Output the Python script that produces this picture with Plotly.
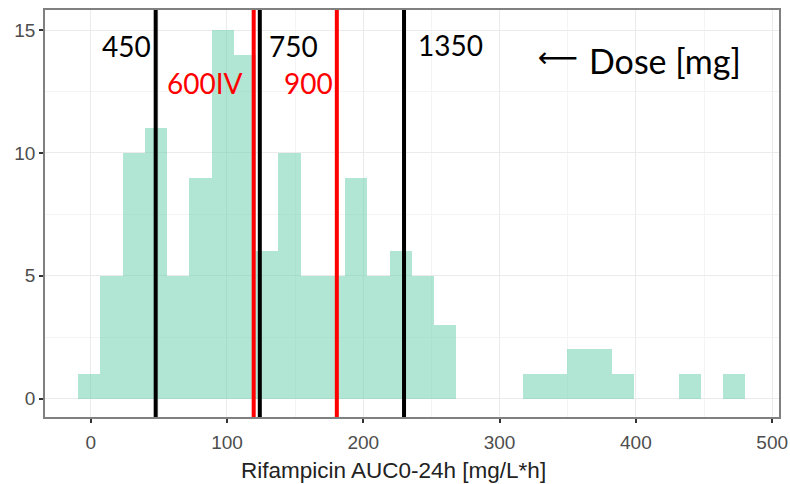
import numpy as np
import plotly.graph_objects as go

# Histogram of rifampicin exposure (30 bins)
bin_start = -9.1
bin_width = 16.31
counts = [1, 5, 10, 11, 5, 9, 15, 14, 6, 10, 5, 5, 9, 5, 6, 5, 3,
          0, 0, 0, 1, 1, 2, 2, 1, 0, 0, 1, 0, 1]

# Expected AUC per dose regimen
dose_labels = ["450", "600IV", "750", "900", "1350"]
dose_auc = [47.7, 119.6, 124.1, 180.6, 229.9]
dose_colors = ["black", "red", "black", "red", "black"]
label_x = [26.4, 83.7, 148.6, 159.7, 264.0]
label_y = [14.35, 12.85, 14.35, 12.85, 14.4]

x_ticks = [0, 100, 200, 300, 400, 500]
y_ticks = [0, 5, 10, 15]

centers = bin_start + bin_width * (np.arange(len(counts)) + 0.5)

fig = go.Figure()
fig.add_trace(go.Bar(
    x=centers, y=counts, width=bin_width,
    marker=dict(color="rgba(102,205,170,0.5)", line=dict(width=0)),
    hoverinfo="skip",
))

for xv, col in zip(dose_auc, dose_colors):
    fig.add_shape(type="line", xref="x", yref="paper", x0=xv, x1=xv, y0=0, y1=1,
                  line=dict(color=col, width=4), layer="above")

label_font = "Lato, 'Open Sans', sans-serif"
for txt, xv, yv, col in zip(dose_labels, label_x, label_y, dose_colors):
    fig.add_annotation(x=xv, y=yv, text=txt, showarrow=False,
                       font=dict(family=label_font, size=28, color=col),
                       xanchor="center", yanchor="middle")

fig.add_annotation(x=342.5, y=13.9, text="⟵", showarrow=False,
                   font=dict(family="DejaVu Sans", size=28, color="black"),
                   xanchor="center", yanchor="middle")
fig.add_annotation(x=421, y=13.75, text="Dose [mg]", showarrow=False,
                   font=dict(family=label_font, size=34, color="black"),
                   xanchor="center", yanchor="middle")

fig.add_annotation(xref="paper", yref="paper", x=0.475, y=-0.095,
                   text="Rifampicin AUC0-24h [mg/L*h]", showarrow=False,
                   font=dict(family="Liberation Sans, Arial, sans-serif", size=22.5, color="#222222"),
                   xanchor="center", yanchor="top")

axis_common = dict(
    showline=True, mirror=True, linecolor="#808080", linewidth=1.5,
    ticks="outside", ticklen=4, tickcolor="#333333", tickwidth=1.5,
    showgrid=True, gridcolor="#ebebeb", gridwidth=1.3,
    zeroline=False, automargin=False,
    tickfont=dict(family="Liberation Sans, Arial, sans-serif", size=19, color="#4d4d4d"),
)

fig.update_xaxes(range=[-33.5, 505], tickvals=x_ticks, ticklabelstandoff=3,
                 minor=dict(tickvals=[50, 150, 250, 350, 450], showgrid=True,
                            gridcolor="#f4f4f4", gridwidth=1, ticks=""),
                 **axis_common)
fig.update_yaxes(range=[-0.75, 15.82], tickvals=y_ticks,
                 minor=dict(tickvals=[2.5, 7.5, 12.5], showgrid=True,
                            gridcolor="#f4f4f4", gridwidth=1, ticks=""),
                 **axis_common)

fig.update_layout(
    width=790, height=484,
    margin=dict(l=45, r=11, t=10, b=67),
    paper_bgcolor="white", plot_bgcolor="white",
    showlegend=False, bargap=0,
)

fig.write_html("out.html")
